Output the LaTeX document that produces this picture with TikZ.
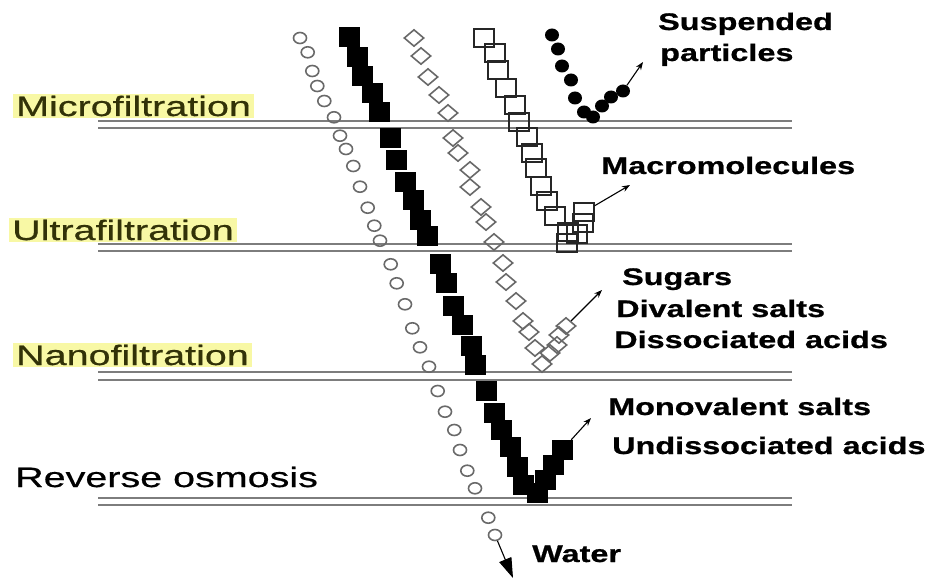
\documentclass[tikz,border=0pt]{standalone}
\usepackage{fontspec}
\usetikzlibrary{shapes.geometric,arrows.meta}
\newfontfamily\leftfont[FakeStretch=1.41,FakeBold=0.6]{Liberation Sans}
\newfontfamily\rightfont[FakeStretch=1.35,FakeBold=0.8]{Liberation Sans}
\definecolor{hl}{RGB}{248,248,165}
\definecolor{olivetext}{RGB}{50,50,8}
\definecolor{memb}{RGB}{125,125,125}
\definecolor{mk}{RGB}{105,105,105}
\begin{document}
\begin{tikzpicture}[x=1pt,y=-1pt,
  lefttxt/.style={anchor=base west, inner xsep=3pt, inner ysep=1.5pt, font=\leftfont\fontsize{28}{32}\selectfont},
  hltxt/.style={lefttxt, fill=hl, text=olivetext},
  righttxt/.style={anchor=base west, inner sep=0pt, font=\rightfont\bfseries\fontsize{24}{28}\selectfont},
  membline/.style={draw=memb, line width=1.1pt},
  opencirc/.style={ellipse, draw=mk, line width=1.6pt, minimum width=13pt, minimum height=11pt, inner sep=0pt},
  blacksq/.style={rectangle, fill=black, minimum width=21pt, minimum height=20pt, inner sep=0pt},
  opendia/.style={diamond, draw=mk, line width=1.6pt, minimum width=20pt, minimum height=17pt, inner sep=0pt},
  opensq/.style={rectangle, draw=black!85, line width=1.5pt, minimum width=20pt, minimum height=18pt, inner sep=0pt},
  blackdot/.style={ellipse, fill=black, minimum width=14pt, minimum height=13pt, inner sep=0pt},
  arr/.style={-{Stealth[length=8pt,width=6pt]}, line width=1.1pt},
  bigarr/.style={-{Triangle[length=20pt,width=13pt]}, line width=1.1pt}
]
\useasboundingbox (0,0) rectangle (931,580);
\fill[white] (0,0) rectangle (931,580);

% membranes
\foreach \y in {121,128,244,251,372,380,498,505}
  \draw[membline] (98,\y) -- (792,\y);

% left labels
\node[hltxt] (mf) at (13,116) {Microfiltration};
\node[hltxt] (uf) at (9,240) {Ultrafiltration};
\node[hltxt] (nf) at (13,365) {Nanofiltration};
\node[lefttxt, text=black] (ro) at (12,487) {Reverse osmosis};

% open circles (water)
\foreach \x/\y [count=\i] in {300/38,307.7/52.3,312.3/71,317.3/86,324.3/101,334/117.3,340/135.7,346/149,353.3/166,360/186.7,367.7/207.7,374.3/225.7,380/240.7,390.7/264.3,396.7/283.3,405/304.3,412.3/328.3,420/347.3,429/366.7,437.7/391,445/411.7,454.3/430,460/450,467.3/470.7,475/488.3,488.3/517.7,495/535}
  \node[opencirc] (c\i) at (\x,\y) {};

% black squares (monovalent salts)
\foreach \x/\y [count=\i] in {349/37,357/57,362/76,372/93,379/112,390/138,396/160,405/182,413/200,420/220,427/236,440/264,446/283,453/306,462/325,471/346,475/365,486/391,494/413,501/430,510/447,517/467,523/485,537/493,545/480,553/465,562/450}
  \node[blacksq] (s\i) at (\x,\y) {};

% open diamonds (sugars)
\foreach \x/\y [count=\i] in {414/38,421/56,428/77,439/95,448/113,453/138,458/153,470/170,470/187,481/207,486/222,494/242,503/263,506/282,516/301,523/321,529/332,535/348,542/364,550/353,557/345,559/335,566/326}
  \node[opendia] (d\i) at (\x,\y) {};

% open squares (macromolecules)
\foreach \x/\y [count=\i] in {484/38,495/53,498/70,506/88,515/105,519/122,527/137,532/153,536/168,541/186,547/201,555/216,567/243,568/232,577/234,583/223,584/212}
  \node[opensq] (q\i) at (\x,\y) {};

% black dots (suspended particles)
\foreach \x/\y [count=\i] in {552/35,558/49,562/66,571/80,575/98,584/112,593/117,602/106,611/97,623/91}
  \node[blackdot] (p\i) at (\x,\y) {};

% arrow end points
\coordinate (spTip) at (643,62);
\coordinate (mmTip) at (630,185);
\coordinate (sgTip) at (602,290);
\coordinate (mvTip) at (591,418);
\coordinate (wTip) at (513,578);

\draw[arr] (p10) -- (spTip);
\draw[arr] (q17) -- (mmTip);
\draw[arr] (d23) -- (sgTip);
\draw[arr] (s27) -- (mvTip);
\draw[bigarr] (c27) -- (wTip);

% right labels
\node[righttxt] (t1) at (658,30) {Suspended};
\node[righttxt] (t2) at (660,61) {particles};
\node[righttxt] (t3) at (601,174) {Macromolecules};
\node[righttxt] (t4) at (622,285) {Sugars};
\node[righttxt] (t5) at (616,317) {Divalent salts};
\node[righttxt] (t6) at (614,348) {Dissociated acids};
\node[righttxt] (t7) at (608,415) {Monovalent salts};
\node[righttxt] (t8) at (612,454) {Undissociated acids};
\node[righttxt] (t9) at (532,562) {Water};
\end{tikzpicture}
\end{document}
